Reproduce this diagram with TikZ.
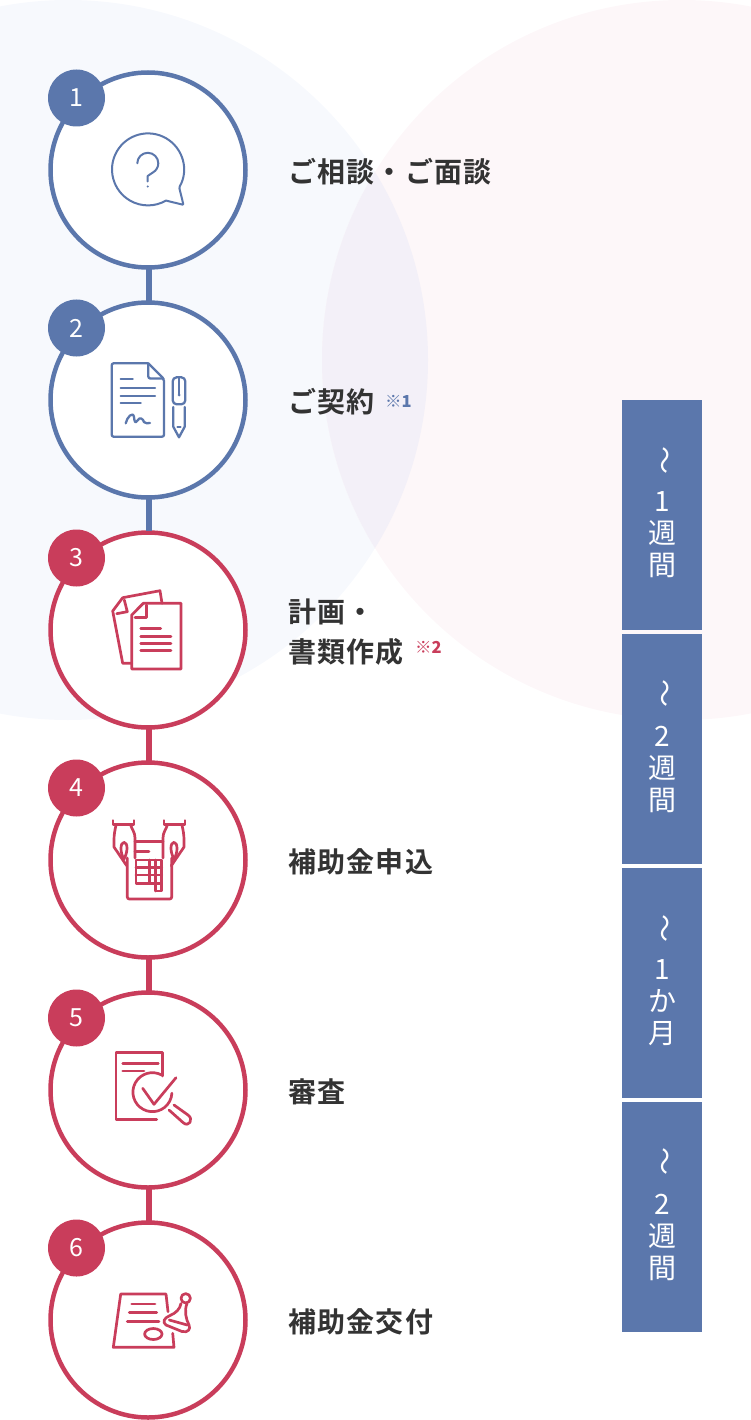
\documentclass[tikz,border=0pt]{standalone}
\usepackage{fontspec}
\usepackage{xcolor}
\usetikzlibrary{positioning}
\setmainfont{Noto Sans CJK JP}
\newfontfamily\labelfont[LetterSpace=4.4,BoldFont={Noto Sans CJK JP Bold}]{Noto Sans CJK JP}
\definecolor{flowblue}{RGB}{91,119,172}
\definecolor{flowred}{RGB}{201,61,91}
\definecolor{flowtext}{RGB}{51,51,51}
\definecolor{bgblue}{RGB}{247,249,253}
\definecolor{bgpink}{RGB}{253,247,249}
\definecolor{bgboth}{RGB}{243,240,248}
\newcommand{\periodtext}[3]{\rotatebox{-90}{～}\\[17pt]#1\\#2\\#3\rule[-8pt]{0pt}{8pt}}

\begin{document}
\begin{tikzpicture}[
    x=1pt, y=-1pt,
    stepcirc/.style={circle, draw, fill=white, line width=4.5pt,
                     minimum size=195pt, inner sep=0pt},
    badge/.style={circle, text=white, minimum size=57pt, inner sep=0pt,
                  font=\fontsize{25}{25}\selectfont},
    steptext/.style={anchor=west, text=flowtext, align=left, inner sep=0pt,
                     font=\labelfont\bfseries\fontsize{28}{40}\selectfont},
    notemark/.style={anchor=west, inner sep=0pt, font=\bfseries\fontsize{16.5}{16.5}\selectfont},
    periodbar/.style={fill=flowblue, text=white, minimum width=80pt, minimum height=230pt,
                      inner sep=0pt, outer sep=0pt, align=center, font=\fontsize{28}{32}\selectfont},
    link/.style={line width=6pt, shorten >=-1pt, shorten <=-1pt, transform canvas={xshift=1pt}},
    icon/.style={line width=2.3pt, line join=round, line cap=round},
    redicon/.style={icon, flowred, line width=2.7pt},
    node distance=30.5pt
]
\useasboundingbox (0,0) rectangle (750,1420);
% background
\fill[bgblue] (68,360) circle[radius=360pt];
\fill[bgpink] (682,360) circle[radius=360pt];
\begin{scope}
    \clip (68,360) circle[radius=360pt];
    \fill[bgboth] (682,360) circle[radius=360pt];
\end{scope}

\node[stepcirc, draw=flowblue] (s1) at (148,170) {};
\node[stepcirc, draw=flowblue, below=of s1] (s2) {};
\node[stepcirc, draw=flowred, below=of s2] (s3) {};
\node[stepcirc, draw=flowred, below=of s3] (s4) {};
\node[stepcirc, draw=flowred, below=of s4] (s5) {};
\node[stepcirc, draw=flowred, below=of s5] (s6) {};

\draw[link, flowblue] (s1) -- (s2);
\draw[link, flowblue] (s2) -- (s3);
\draw[link, flowred] (s3) -- (s4);
\draw[link, flowred] (s4) -- (s5);
\draw[link, flowred] (s5) -- (s6);

\node[badge, fill=flowblue] (b1) at (76.5,98) {1};
\node[badge, fill=flowblue] (b2) at (76.5,328) {2};
\node[badge, fill=flowred] (b3) at (76.5,558) {3};
\node[badge, fill=flowred] (b4) at (76.5,788) {4};
\node[badge, fill=flowred] (b5) at (76.5,1018) {5};
\node[badge, fill=flowred] (b6) at (76.5,1248) {6};

\node[steptext] (t1) at (288,171.5) {ご相談・ご面談};
\node[steptext] (t2) at (288,401.5) {ご契約};
\node[notemark, flowblue] (n1) at (385,401.5) {※1};
\node[steptext] (t3) at (288,632.5) {計画・\\書類作成};
\node[notemark, flowred] (n2) at (415,647.5) {※2};
\node[steptext] (t4) at (288,861.5) {補助金申込};
\node[steptext] (t5) at (288,1091.5) {審査};
\node[steptext] (t6) at (288,1321.5) {補助金交付};

\node[periodbar] (p1) at (662,515) {\periodtext{1}{週}{間}};
\node[periodbar, below=4pt of p1] (p2) {\periodtext{2}{週}{間}};
\node[periodbar, below=4pt of p2] (p3) {\periodtext{1}{か}{月}};
\node[periodbar, below=4pt of p3] (p4) {\periodtext{2}{週}{間}};

% icon 1
\begin{scope}[icon, flowblue, line width=2pt]
    \draw (179.2,187.4) arc[start angle=-30, end angle=300, radius=36pt]
        -- (182,204.5) [rounded corners=1pt] -- (183.5,205) -- cycle;
    \draw (137.3,163.3) arc[start angle=180, end angle=-60, radius=10.5pt] -- (147.7,176) -- (147.7,181.5);
    \fill (147.7,186.5) circle[radius=1.2pt];
\end{scope}
% icon 2
\begin{scope}[icon, flowblue]
    \draw[rounded corners=2pt] (148.3,363.3) -- (111.7,363.3) -- (111.7,436.7) -- (164,436.7) -- (164,379) -- (148.3,363.3);
    \draw[rounded corners=2pt] (148.3,364) -- (148.3,378.5) -- (163.5,378.5);
    \draw (120.7,379) -- (132.7,379);
    \draw (120.7,388.3) -- (155,388.3);
    \draw (120.7,395.7) -- (155,395.7);
    \draw (120.7,403) -- (140.7,403);
    \draw (125.7,423.3) .. controls (127,417) and (133,411) .. (134,417) .. controls (134.5,421) and (135,424) .. (137,421) .. controls (140,416) and (143,419) .. (144,422) .. controls (145,424) and (148,423) .. (150,423);
    \draw[rounded corners=4pt] (172.7,404.3) -- (172.7,377.3) -- (185.3,377.3) -- (185.3,404.3) -- cycle;
    \draw (179,378) -- (179,394);
    \fill (179,395) circle[radius=1.5pt];
    \draw (173.3,407) -- (173.3,426.7) -- (179,437.3) -- (184.7,426.7) -- (184.7,407);
    \draw (177.5,426.7) -- (180.5,426.7);
\end{scope}
% icon 3
\begin{scope}[redicon]
    \draw (143.3,603.3) -- (181,603.3) -- (181,669) -- (131.7,669) -- (131.7,615) -- cycle;
    \draw (146.7,605) -- (146.7,617.7) -- (135,617.7);
    \draw (140.7,628.7) -- (160.7,628.7);
    \foreach \ly in {636.3,643.3,650.7}
        \draw (140.7,\ly) -- (171,\ly);
    \draw (131.7,663.3) -- (122.7,663.3) -- (112.7,611) -- (122.7,597.7) -- (160,590.7) -- (162,603.3);
    \draw (124.3,600) -- (127.3,611.7) -- (116.7,613.7);
\end{scope}
% icon 4
\begin{scope}[redicon]
    \draw (135,841.7) -- (163,841.7);
    \draw[rounded corners=2pt] (127.3,858) -- (127.3,899) -- (171.7,899) -- (171.7,858);
    \draw (135,851.7) -- (149,851.7);
    \draw (136,860) rectangle (161.7,883.3);
    \draw (136,867.3) -- (161.7,867.3);
    \draw (136,875) -- (161.7,875);
    \draw (149.3,860) -- (149.3,883.3);
    \draw (155.7,860) -- (155.7,891);
    \draw (155.7,891) -- (161.7,891) -- (161.7,883.3);
    \foreach \sx/\xs in {0/1,298/-1} {
    \begin{scope}[xshift=\sx pt, xscale=\xs]
        \draw (113,820.5) -- (113,824.3) -- (134,824.3) -- (134,820.5);
        \draw (116,825) .. controls (115,830) and (114,834) .. (114,840) -- (114,847) -- (126.7,865.7);
        \draw (130.7,825) .. controls (132,830) and (135,832) .. (135,838) -- (135,858);
        \draw (124,859) .. controls (120,853) and (120,842.5) .. (124,842.3) .. controls (128,842.5) and (128,852) .. (124,859);
    \end{scope}
    }
\end{scope}
% icon 5
\begin{scope}[redicon]
    \draw (156.7,1119.7) -- (116,1119.7) -- (116,1052.7) -- (162.7,1052.7) -- (162.7,1076);
    \draw (122.7,1063.3) -- (158.3,1063.3);
    \draw (122.7,1071) -- (144,1071);
    \draw (161.7,1075) arc[start angle=61.6, end angle=357, radius=19.5pt];
    \draw (142.7,1088.3) -- (154,1104.3) -- (176,1077.7);
    \draw (169,1110) -- (183,1122.5) .. controls (189,1128) and (194,1119) .. (188,1115) -- (174,1105);
\end{scope}
% icon 6
\begin{scope}[redicon]
    \draw (172.7,1333.3) -- (174,1347.3) -- (113.3,1347.3) -- (120.7,1294) -- (166,1294) -- (168,1311.7);
    \draw (131.7,1304) -- (155,1304);
    \draw (129.3,1312.7) -- (156.7,1312.7);
    \draw (127.3,1321.7) -- (159,1321.7);
    \draw (153.3,1334) ellipse[x radius=8.7pt, y radius=5.5pt];
    \draw (185.7,1298.3) circle[radius=4.7pt];
    \draw (181,1303.5) .. controls (180,1309) and (176,1313) .. (170,1315.5) .. controls (164,1318) and (162,1322) .. (166,1325) -- (182,1331.5) .. controls (188,1333) and (191,1329) .. (189,1325) .. controls (186,1319) and (184,1311) .. (187,1303.5);
    \draw (169.3,1320) -- (187.3,1325);
\end{scope}
\end{tikzpicture}
\end{document}
